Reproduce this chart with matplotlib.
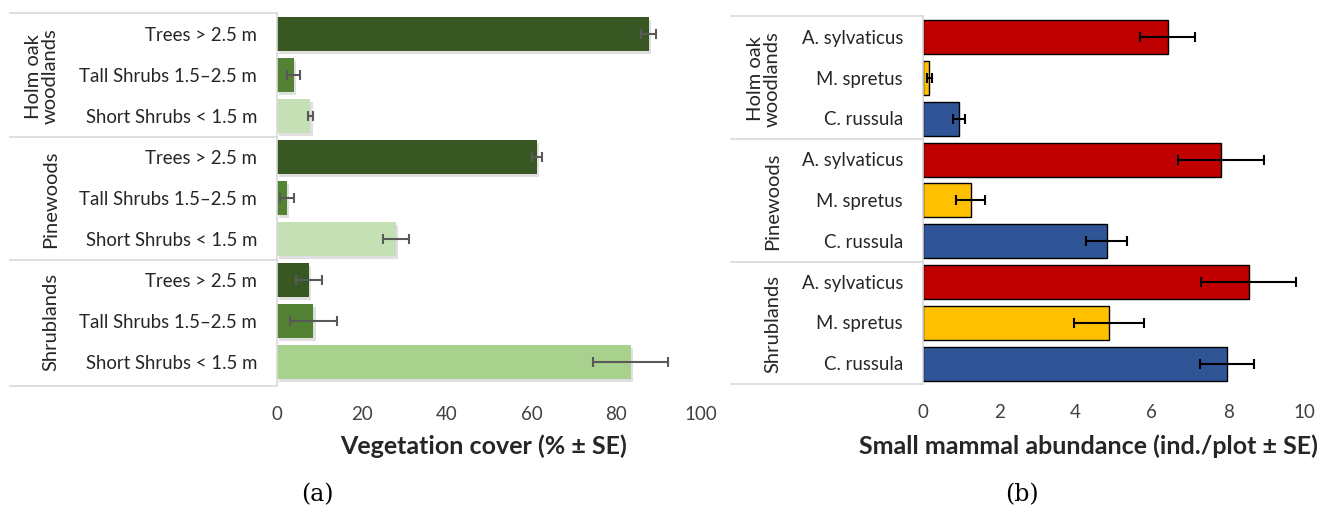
import matplotlib
matplotlib.use("Agg")
import matplotlib.pyplot as plt
import matplotlib.patheffects as pe
import numpy as np

# ---- data ----
habitats = ["Holm oak\nwoodlands", "Pinewoods", "Shrublands"]
veg_layers = ["Trees > 2.5 m", "Tall Shrubs 1.5–2.5 m", "Short Shrubs < 1.5 m"]
veg_cover = [87.7, 3.9, 7.9, 61.3, 2.4, 28.1, 7.6, 8.6, 83.4]
veg_se = [1.8, 1.5, 0.6, 1.1, 1.6, 3.1, 3.1, 5.5, 8.8]
veg_ticks = [0, 20, 40, 60, 80, 100]

species = ["A. sylvaticus", "M. spretus", "C. russula"]
mammal_abund = [6.42, 0.16, 0.93, 7.81, 1.24, 4.81, 8.54, 4.87, 7.96]
mammal_se = [0.72, 0.07, 0.16, 1.12, 0.39, 0.54, 1.25, 0.91, 0.71]
mammal_ticks = [0, 2, 4, 6, 8, 10]

veg_colors = ["#385723", "#548235", "#C5E0B4",
              "#385723", "#548235", "#C5E0B4",
              "#385723", "#548235", "#A9D18E"]
mam_colors = ["#C00000", "#FFC000", "#2F5597"] * 3

W, H = 1328, 506
fig = plt.figure(figsize=(W / 100, H / 100), dpi=100)
FONT = "Lato"
GRID = "#D9D9D9"


def px_axes(x0, x1, y0, y1):
    return fig.add_axes([x0 / W, 1 - y1 / H, (x1 - x0) / W, (y1 - y0) / H])


def panel(ax, values, se, colors, cats, ticks, xmax, box_left_px, ax_left_px,
          ax_right_px, cat_right_px, grp_right_px, ylim, err_color, edge, shadow):
    n = len(values)
    y = np.arange(n)
    bars = ax.barh(y, values, height=0.83, color=colors,
                   edgecolor=("black" if edge else "none"),
                   linewidth=(1.0 if edge else 0), zorder=2)
    if shadow:
        for b in bars:
            b.set_path_effects([pe.SimplePatchShadow(offset=(1.5, -2), alpha=0.25,
                                                     shadow_rgbFace="#808080"),
                                pe.Normal()])
    ax.errorbar(values, y, xerr=se, fmt="none", ecolor=err_color,
                elinewidth=1.5, capsize=3.5, capthick=1.5, zorder=3)
    ax.set_xlim(0, xmax)
    ax.set_ylim(*ylim)
    ax.set_xticks(ticks)
    ax.set_xticklabels([str(t) for t in ticks], fontfamily=FONT, fontsize=13.5,
                       color="#404040")
    ax.tick_params(axis="x", length=0, pad=14)
    ax.set_yticks([])
    for s in ["top", "right", "bottom"]:
        ax.spines[s].set_visible(False)
    ax.spines["left"].set_color(GRID)
    ax.spines["left"].set_linewidth(1.2)

    scale = (ax_right_px - ax_left_px)
    to_ax = lambda px: (px - ax_left_px) / scale
    tr = ax.get_yaxis_transform()
    bounds = [ylim[1], 2.5, 5.5, ylim[0]]
    for b in bounds:
        ax.plot([to_ax(box_left_px), 0], [b, b], color=GRID, lw=1.2,
                transform=tr, clip_on=False, zorder=1)
    for i in range(n):
        ax.text(to_ax(cat_right_px), i, cats[i % 3], transform=tr, ha="right",
                va="center", fontfamily=FONT, fontsize=13.4, color="#262626")
    for g in range(3):
        ax.text(to_ax(grp_right_px), 3 * g + 1, habitats[g], transform=tr,
                rotation=90, ha="right", va="center", fontfamily=FONT,
                fontsize=14.5, color="#262626", linespacing=1.0,
                multialignment="center")
    return to_ax


axA = px_axes(277, 701, 14, 387)
toA = panel(axA, veg_cover, veg_se, veg_colors, veg_layers, veg_ticks, 100,
            10, 277, 701, 257, 59, (8.58, -0.52), "#595959", False, True)
axA.set_xlabel("Vegetation cover (% ± SE)", fontfamily=FONT, fontsize=18,
               fontweight="bold", color="#262626")
axA.xaxis.set_label_coords(toA(484), -(446 - 387) / (387 - 14))
axA.xaxis.label.set_va("center")

axB = px_axes(923.3, 1304.3, 17, 385)
toB = panel(axB, mammal_abund, mammal_se, mam_colors, species, mammal_ticks, 10,
            731, 923.3, 1304.3, 903, 781, (8.5, -0.52), "black", True, False)
axB.set_xlabel("Small mammal abundance (ind./plot ± SE)", fontfamily=FONT,
               fontsize=18, fontweight="bold", color="#262626")
axB.xaxis.set_label_coords(toB(1088), -(446 - 385) / (385 - 17))
axB.xaxis.label.set_va("center")

fig.text(317 / W, 1 - 495 / H, "(a)", ha="center", va="center",
         fontfamily="DejaVu Serif", fontsize=17)
fig.text(1022 / W, 1 - 495 / H, "(b)", ha="center", va="center",
         fontfamily="DejaVu Serif", fontsize=17)

fig.savefig("out.png", dpi=100, facecolor="white")
